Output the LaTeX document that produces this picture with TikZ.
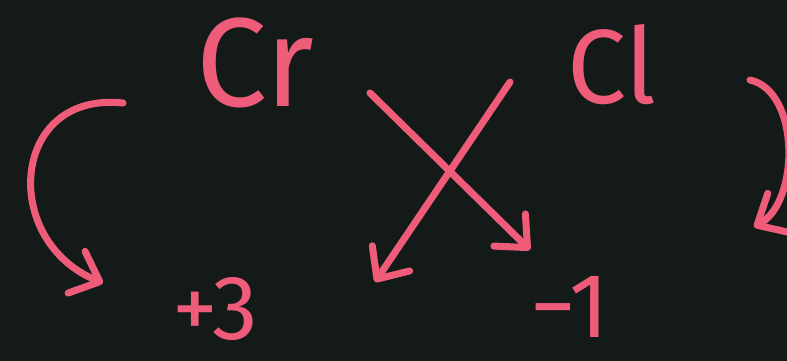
\documentclass[tikz,border=0pt]{standalone}
\usepackage{fontspec}
\setmainfont{Fira Sans}
\usepackage{xcolor}
\usepackage{tikz}
\usetikzlibrary{
    arrows.meta,
    positioning,
    calc
}
\definecolor{board}{RGB}{20,26,24}
\definecolor{chalkpink}{RGB}{238,92,122}
\tikzset{
    symbol/.style={
        text=chalkpink,
        inner sep=0pt,
        font=\fontsize{72}{80}\selectfont
    }
}
\tikzset{
    charge/.style={
        text=chalkpink,
        inner sep=0pt,
        font=\fontsize{52}{60}\selectfont
    }
}
\tikzset{
    stroke/.style={
        draw=chalkpink,
        line width=4pt,
        line cap=round,
        -{Straight Barb[length=5mm,width=9mm,round]}
    }
}

\begin{document}
\begin{tikzpicture}[
    x=0.02cm,
    y=0.02cm
]

% =========================================================
% Board
% =========================================================

\fill[board] (0,0) rectangle (787,361);
\useasboundingbox (0,0) rectangle (787,361);

% =========================================================
% Symbols and charges
% =========================================================

\node[symbol] (cr) at (255,298) {Cr};
\node[symbol, font=\fontsize{60}{66}\selectfont] (cl) at (612,296) {Cl};

\node[charge] (plus) at (215,52) {+3};
\node[charge] (minus) at (570,54) {−1};

% =========================================================
% Cross over
% =========================================================

\coordinate (crtail) at (370,268);
\coordinate (crhead) at (530,111);
\coordinate (cltail) at (510,279);
\coordinate (clhead) at (375,79);

\draw[stroke] (crtail) -- (crhead);
\draw[stroke] (cltail) -- (clhead);

% =========================================================
% Curved arrows
% =========================================================

\coordinate (lefttail) at (123,258);
\coordinate (lefthead) at (103,78);
\coordinate (righttail) at (750,281);
\coordinate (righthead) at (754,134);

\draw[stroke] (lefttail) .. controls (10,270) and (0,120) .. (lefthead);
\draw[stroke] (righttail) .. controls (800,270) and (800,160) .. (righthead);

\end{tikzpicture}
\end{document}
